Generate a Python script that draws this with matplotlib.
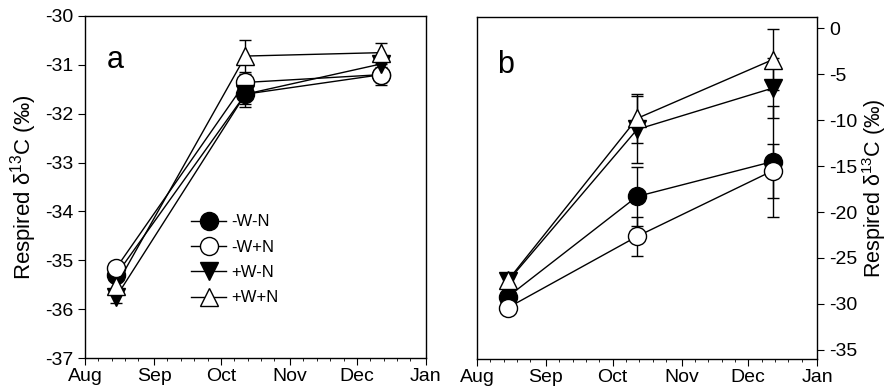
import datetime as dt

import matplotlib
matplotlib.use("Agg")
import matplotlib.pyplot as plt
import matplotlib.dates as mdates
from matplotlib.lines import Line2D

plt.rcParams['font.family'] = ['Liberation Sans', 'DejaVu Sans']
plt.rcParams['mathtext.fontset'] = 'custom'
plt.rcParams['mathtext.rm'] = 'Liberation Sans'
plt.rcParams['axes.unicode_minus'] = False

# sampling dates
dates = [dt.date(2006, 8, 15), dt.date(2006, 10, 12), dt.date(2006, 12, 12)]
treatments = ['-W-N', '-W+N', '+W-N', '+W+N']

# panel a values and standard errors
a_wn_n = [-35.30, -31.60, -31.20]
a_wn_p = [-35.16, -31.36, -31.20]
a_wp_n = [-35.75, -31.60, -30.98]
a_wp_p = [-35.52, -30.82, -30.75]
a_err_wn_n = [0.10, 0.20, 0.15]
a_err_wn_p = [0.10, 0.18, 0.22]
a_err_wp_n = [0.12, 0.27, 0.15]
a_err_wp_p = [0.12, 0.32, 0.20]

# panel b values and standard errors
b_wn_n = [-29.2, -18.3, -14.5]
b_wn_p = [-30.4, -22.65, -15.5]
b_wp_n = [-27.5, -11.0, -6.5]
b_wp_p = [-27.4, -9.8, -3.4]
b_err_wn_n = [0.5, 3.2, 6.0]
b_err_wn_p = [0.5, 2.15, 2.95]
b_err_wp_n = [0.5, 3.65, 3.3]
b_err_wp_p = [0.5, 2.65, 3.3]

markers = ['o', 'o', 'v', '^']
faces = ['black', 'white', 'black', 'white']

fig = plt.figure(figsize=(8.94, 3.9), dpi=100)
ax_a = fig.add_axes([0.095, 0.082, 0.3815, 0.877])
ax_b = fig.add_axes([0.5336, 0.0795, 0.3804, 0.877])

ylabel = 'Respired δ$^{13}$C (‰)'


def draw_panel(ax, series, errors):
    for vals, errs, mk, fc, lab in zip(series, errors, markers, faces, treatments):
        ax.errorbar(dates, vals, yerr=errs, color='black', lw=1,
                    marker=mk, ms=13, mfc=fc, mec='black', mew=1,
                    capsize=4.5, capthick=1, elinewidth=1, label=lab)
    ax.set_xlim(dt.date(2006, 8, 1), dt.date(2007, 1, 1))
    ax.xaxis.set_major_locator(mdates.MonthLocator())
    ax.xaxis.set_major_formatter(mdates.DateFormatter('%b'))
    ax.xaxis.set_minor_locator(mdates.DayLocator(bymonthday=[7, 13, 19, 25]))
    ax.tick_params(axis='x', which='major', direction='out', length=5,
                   labelsize=14, pad=2)
    ax.tick_params(axis='x', which='minor', direction='out', length=2)
    ax.tick_params(axis='y', direction='out', length=5, labelsize=14)
    for s in ax.spines.values():
        s.set_linewidth(1)


draw_panel(ax_a, [a_wn_n, a_wn_p, a_wp_n, a_wp_p],
           [a_err_wn_n, a_err_wn_p, a_err_wp_n, a_err_wp_p])
ax_a.set_ylim(-37, -30)
ax_a.set_yticks(range(-37, -29))
ax_a.set_ylabel(ylabel, fontsize=16, labelpad=4)
ax_a.text(0.088, 0.87, 'a', transform=ax_a.transAxes, fontsize=22,
          ha='center', va='center')

handles = [Line2D([], [], color='black', lw=1, marker=mk, ms=13, mfc=fc,
                  mec='black', mew=1) for mk, fc in zip(markers, faces)]
ax_a.legend(handles, treatments, loc='upper left', bbox_to_anchor=(0.312, 0.42),
            frameon=False, fontsize=12, numpoints=1, handlelength=2.1,
            handletextpad=0.3, labelspacing=0.62, borderpad=0,
            borderaxespad=0)

draw_panel(ax_b, [b_wn_n, b_wn_p, b_wp_n, b_wp_p],
           [b_err_wn_n, b_err_wn_p, b_err_wp_n, b_err_wp_p])
ax_b.set_ylim(-36, 1.25)
ax_b.set_yticks(range(-35, 1, 5))
ax_b.yaxis.tick_right()
ax_b.yaxis.set_label_position('right')
ax_b.set_ylabel(ylabel, fontsize=15.5, labelpad=2)
ax_b.text(0.085, 0.86, 'b', transform=ax_b.transAxes, fontsize=22,
          ha='center', va='center')

fig.savefig('out.png', dpi=100)
